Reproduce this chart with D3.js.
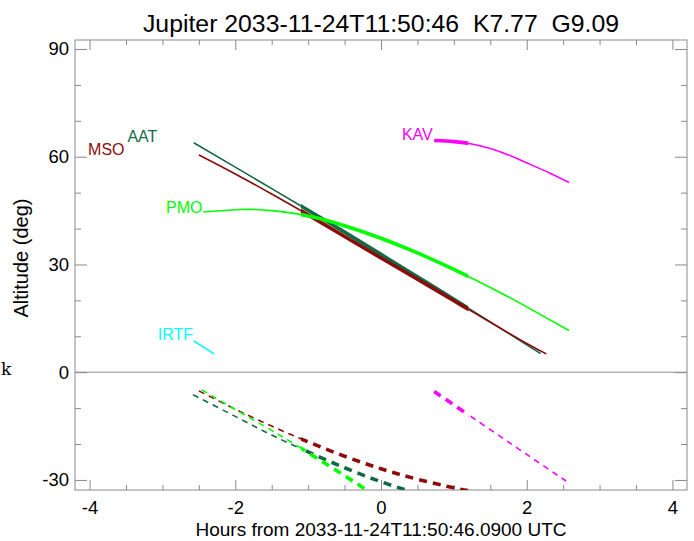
<!DOCTYPE html>
<html><head><meta charset="utf-8">
<script src="https://cdn.jsdelivr.net/npm/d3@7"></script>
<style>
html,body{margin:0;padding:0;background:#fff;}
text{font-family:"Liberation Sans",Arial,sans-serif;}
</style></head>
<body>
<svg id="chart" width="694" height="541"></svg>
<script>
// ---- data ----
const titleText = "Jupiter 2033-11-24T11:50:46  K7.77  G9.09";
const xLabel = "Hours from 2033-11-24T11:50:46.0900 UTC";
const yLabel = "Altitude (deg)";
const sites = ["AAT", "MSO", "PMO", "KAV", "IRTF"];
const siteColors = ["#136b46", "#8e0b0b", "#00ff00", "#ff00ff", "#00ffff"];
// target altitude (solid)
const altHours = [
  [-2.57, -2, -1.5, -1, -0.5, 0, 0.5, 1, 1.5, 2, 2.19],
  [-2.5, -2, -1.5, -1, -0.5, 0, 0.5, 1, 1.5, 2, 2.27],
  [-2.44, -1.9, -1.5, -1, -0.5, 0, 0.5, 1, 1.5, 2, 2.58],
  [0.73, 1, 1.21, 1.5, 1.81, 2, 2.3, 2.58],
  [-2.57, -2.29]
];
const altValues = [
  [63.9, 57.1, 51.1, 45.1, 39.0, 32.8, 26.6, 20.3, 14.0, 7.6, 5.2],
  [60.5, 55.2, 49.6, 43.8, 37.8, 31.8, 25.9, 19.9, 13.9, 8.0, 5.1],
  [44.6, 45.3, 45.0, 43.5, 40.8, 37.3, 33.2, 28.6, 23.6, 18.2, 11.6],
  [64.5, 64.2, 63.7, 62.3, 60.0, 58.3, 55.6, 52.8],
  [8.7, 5.1]
];
// sun altitude (dashed)
const sunHours = [
  [-2.58, -2, -1.5, -1, -0.5, 0, 0.5],
  [-2.5, -2, -1.5, -1, -0.5, 0, 0.5, 1, 1.2],
  [-2.46, -2, -1.5, -1, -0.5, -0.1],
  [0.73, 1, 1.5, 2, 2.54],
  []
];
const sunValues = [
  [-6.3, -12.3, -17.5, -22.2, -26.6, -30.5, -33.8],
  [-5.2, -10.3, -15.0, -19.4, -23.4, -26.9, -29.8, -32.2, -33.0],
  [-4.9, -10.4, -16.2, -22.4, -28.8, -34.1],
  [-5.4, -9.1, -16.0, -22.9, -30.3],
  []
];
const darkWindow = [-1.1, 1.2];
const labelHours = [-3.07, -3.52, -2.45, 0.71, -2.58];
const labelAlts = [64.0, 60.5, 44.3, 64.7, 9.0];
const xDomain = [-4.2, 4.2];
const yDomain = [-32.8, 92.5];
const xMajor = [-4, -2, 0, 2, 4];
const xMinor = [-3.5, -3, -2.5, -1.5, -1, -0.5, 0.5, 1, 1.5, 2.5, 3, 3.5];
const yMajor = [-30, 0, 30, 60, 90];
const yMinor = [-20, -10, 10, 20, 40, 50, 70, 80];

// ---- drawing ----
const svg = d3.select("#chart");
const L = 75, R = 687, T = 40, B = 490;
const frameColor = "#8a8a8a";
const x = d3.scaleLinear().domain(xDomain).range([L, R]);
const y = d3.scaleLinear().domain(yDomain).range([B, T]);

const defs = svg.append("defs");
defs.append("clipPath").attr("id", "plotClip").append("rect")
  .attr("x", L).attr("y", T).attr("width", R - L).attr("height", B - T);
defs.append("clipPath").attr("id", "inClip").append("rect")
  .attr("x", x(darkWindow[0])).attr("y", 0)
  .attr("width", x(darkWindow[1]) - x(darkWindow[0])).attr("height", 541);
const outClip = defs.append("clipPath").attr("id", "outClip");
outClip.append("rect").attr("x", 0).attr("y", 0).attr("width", x(darkWindow[0])).attr("height", 541);
outClip.append("rect").attr("x", x(darkWindow[1])).attr("y", 0)
  .attr("width", 694 - x(darkWindow[1])).attr("height", 541);

// zero line
svg.append("line").attr("x1", L).attr("x2", R).attr("y1", y(0)).attr("y2", y(0))
  .attr("stroke", frameColor).attr("stroke-width", 1);

function styleAxis(g) {
  g.select(".domain").remove();
  g.selectAll(".tick line").attr("stroke", frameColor).attr("stroke-width", 1);
  g.selectAll(".tick text").attr("fill", "#000").style("font-size", "18.5px")
    .style("font-family", "'Liberation Sans',Arial,sans-serif");
}
const fmt = d => d3.format("d")(d).replace("−", "-");
svg.append("g").attr("transform", `translate(0,${B})`)
  .call(d3.axisBottom(x).tickValues(xMajor).tickSize(-10).tickPadding(11).tickFormat(fmt)).call(styleAxis);
svg.append("g").attr("transform", `translate(0,${B})`)
  .call(d3.axisBottom(x).tickValues(xMinor).tickSize(-5).tickFormat("")).call(styleAxis);
svg.append("g").attr("transform", `translate(0,${T})`)
  .call(d3.axisTop(x).tickValues(xMajor).tickSize(-10).tickFormat("")).call(styleAxis);
svg.append("g").attr("transform", `translate(0,${T})`)
  .call(d3.axisTop(x).tickValues(xMinor).tickSize(-5).tickFormat("")).call(styleAxis);
svg.append("g").attr("transform", `translate(${L},0)`)
  .call(d3.axisLeft(y).tickValues(yMajor).tickSize(-12).tickPadding(6).tickFormat(fmt)).call(styleAxis);
svg.append("g").attr("transform", `translate(${L},0)`)
  .call(d3.axisLeft(y).tickValues(yMinor).tickSize(-6).tickFormat("")).call(styleAxis);
svg.append("g").attr("transform", `translate(${R},0)`)
  .call(d3.axisRight(y).tickValues(yMajor).tickSize(-12).tickFormat("")).call(styleAxis);
svg.append("g").attr("transform", `translate(${R},0)`)
  .call(d3.axisRight(y).tickValues(yMinor).tickSize(-6).tickFormat("")).call(styleAxis);

svg.append("rect").attr("x", L).attr("y", T).attr("width", R - L).attr("height", B - T)
  .attr("fill", "none").attr("stroke", frameColor).attr("stroke-width", 1);

// series
const line = d3.line().x(d => x(d[0])).y(d => y(d[1])).curve(d3.curveNatural);
const plot = svg.append("g").attr("clip-path", "url(#plotClip)");
sites.forEach((s, i) => {
  const c = siteColors[i];
  const alt = altHours[i].map((h, j) => [h, altValues[i][j]]);
  const sun = sunHours[i].map((h, j) => [h, sunValues[i][j]]);
  const gOut = plot.append("g").attr("clip-path", "url(#outClip)");
  const gIn = plot.append("g").attr("clip-path", "url(#inClip)");
  if (alt.length) {
    gOut.append("path").attr("d", line(alt)).attr("fill", "none").attr("stroke", c).attr("stroke-width", 1.6);
    gIn.append("path").attr("d", line(alt)).attr("fill", "none").attr("stroke", c).attr("stroke-width", 3.6);
  }
  if (sun.length) {
    gOut.append("path").attr("d", line(sun)).attr("fill", "none").attr("stroke", c)
      .attr("stroke-width", 1.6).attr("stroke-dasharray", "6,5");
    gIn.append("path").attr("d", line(sun)).attr("fill", "none").attr("stroke", c)
      .attr("stroke-width", 3.6).attr("stroke-dasharray", "8,6");
  }
  svg.append("text").attr("x", x(labelHours[i])).attr("y", y(labelAlts[i]))
    .attr("text-anchor", "end").attr("fill", c).style("font-size", "16px").text(s);
});

// titles
svg.append("text").attr("x", (L + R) / 2).attr("y", 32).attr("text-anchor", "middle")
  .style("font-size", "24.8px").style("white-space", "pre").text(titleText);
svg.append("text").attr("x", (L + R) / 2).attr("y", 536).attr("text-anchor", "middle")
  .style("font-size", "19px").text(xLabel);
svg.append("text").attr("transform", `translate(28,258) rotate(-90)`)
  .attr("text-anchor", "middle").style("font-size", "20px").text(yLabel);
svg.append("text").attr("x", 1).attr("y", 375)
  .style("font-family", "'DejaVu Serif','Liberation Serif',serif").style("font-size", "17px").text("k");
</script>
</body></html>
